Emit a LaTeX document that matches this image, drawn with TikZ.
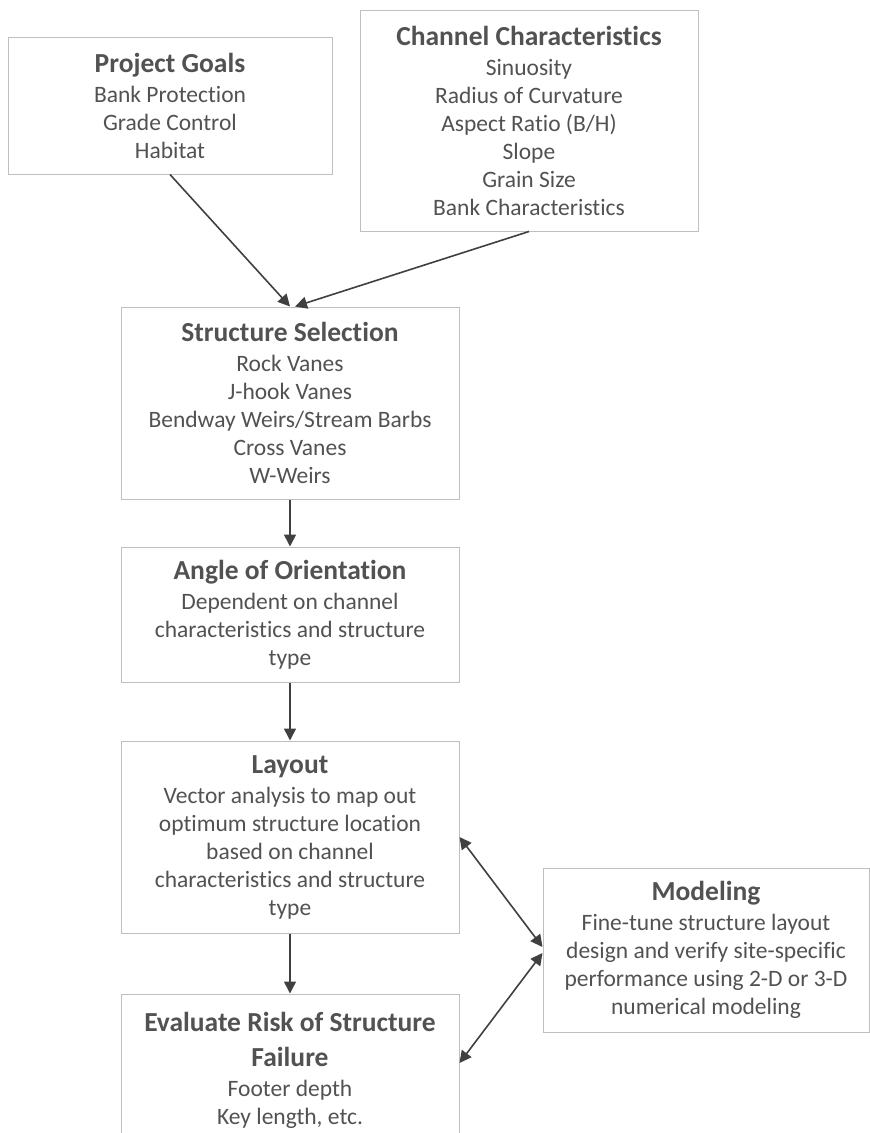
\documentclass[tikz,border=0pt]{standalone}
\usepackage{fontspec}
\setmainfont{Carlito}[Ligatures=NoCommon]
\usepackage{tikz}
\usetikzlibrary{arrows.meta,positioning}

\definecolor{boxline}{HTML}{BFBFBF}
\definecolor{txtgray}{HTML}{525252}
\definecolor{arrgray}{HTML}{404040}

\begin{document}
\begin{tikzpicture}[x=1pt,y=-1pt,
  stepbox/.style={draw=boxline,line width=1pt,fill=white,inner sep=0pt,
    align=center,text=txtgray,font=\fontsize{23.5}{28}\selectfont},
  flow/.style={draw=arrgray,line width=1.6pt,-{Triangle[length=12pt,width=12pt]}},
  twoway/.style={flow,{Triangle[length=12pt,width=12pt]}-{Triangle[length=12pt,width=12pt]}}]
\newcommand{\hd}[1]{{\fontsize{27.5}{28}\selectfont\bfseries #1}}
\useasboundingbox (0,0) rectangle (870,1133);

% inputs
\node[stepbox,minimum width=324pt,minimum height=137pt] (goals) at (170,105.5)
  {\hd{Project Goals}\\[2pt]Bank Protection\\Grade Control\\Habitat};
\node[stepbox,minimum width=338pt,minimum height=221pt] (channel) at (529,120.5)
  {\hd{Channel Characteristics}\\[2pt]Sinuosity\\Radius of Curvature\\Aspect Ratio (B/H)\\Slope\\Grain Size\\Bank Characteristics};

% main column
\node[stepbox,minimum width=338pt,minimum height=192pt] (select) at (290,403)
  {\hd{Structure Selection}\\[2pt]Rock Vanes\\J-hook Vanes\\Bendway Weirs/Stream Barbs\\Cross Vanes\\W-Weirs};
\node[stepbox,minimum width=338pt,minimum height=135pt] (angle) at (290,614.5)
  {\hd{Angle of Orientation}\\[2pt]Dependent on channel\\characteristics and structure\\type};
\node[stepbox,minimum width=338pt,minimum height=192pt] (layout) at (290,837)
  {\hd{Layout}\\[2pt]Vector analysis to map out\\optimum structure location\\based on channel\\characteristics and structure\\type};
\node[stepbox,minimum width=338pt,minimum height=152pt] (risk) at (290,1070)
  {\hd{Evaluate Risk of Structure}\\[7pt]\hd{Failure}\\[2pt]Footer depth\\Key length, etc.};

% side box
\node[stepbox,minimum width=326pt,minimum height=164pt] (model) at (706,950)
  {\hd{Modeling}\\[2pt]Fine-tune structure layout\\design and verify site-specific\\performance using 2-D or 3-D\\numerical modeling};

% connectors
\draw[flow] (goals.south) -- (select.north);
\draw[flow] (channel.south) -- ([xshift=5pt]select.north);
\draw[flow] (select) -- (angle);
\draw[flow] (angle) -- (layout);
\draw[flow] (layout) -- (risk);
\draw[twoway] (layout.east) -- ([yshift=3pt]model.west);
\draw[twoway] ([yshift=7pt]risk.east) -- ([yshift=-3pt]model.west);
\end{tikzpicture}
\end{document}
